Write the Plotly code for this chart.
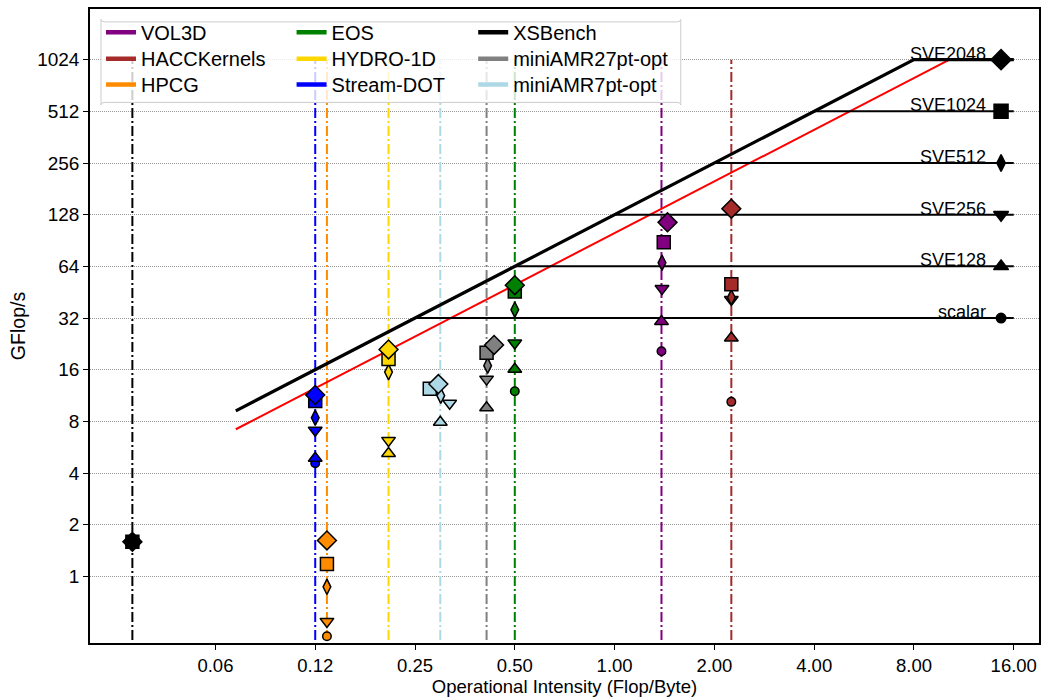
import math
import plotly.graph_objects as go

# ---------------- data ----------------
benchmarks = ["VOL3D", "HACCKernels", "HPCG",
              "EOS", "HYDRO-1D", "Stream-DOT",
              "XSBench", "miniAMR27pt-opt", "miniAMR7pt-opt"]
colors = ["#800080", "#a52a2a", "#ff8c00",
          "#008000", "#ffd700", "#0000ff",
          "#000000", "#808080", "#add8e6"]
# operational intensity of each benchmark (vertical line)
oi_line = [1.385, 2.25, 0.1356, 0.5, 0.208, 0.125, 0.0351, 0.411, 0.298]

vector_widths = ["scalar", "SVE128", "SVE256", "SVE512", "SVE1024", "SVE2048"]
# measured GFlop/s per vector width (scalar .. SVE2048); None = not visible
perf = {
    "VOL3D":           [20.5, 30.6, 47.5, 67.2, 88.5, 115.5],
    "HACCKernels":     [10.4, 24.5, 41.0, 42.2, 50.3, 138.7],
    "HPCG":            [0.448, None, 0.547, 0.87, 1.18, 1.62],
    "EOS":             [12.0, 16.1, 22.9, 35.8, 45.7, 49.7],
    "HYDRO-1D":        [None, 5.2, 6.2, 15.5, 18.5, 21.0],
    "Stream-DOT":      [4.57, 4.88, 7.1, 8.4, 10.5, 11.4],
    "XSBench":         [1.59, 1.59, 1.59, 1.59, 1.59, 1.59],
    "miniAMR27pt-opt": [None, 9.6, 14.1, 16.9, 20.1, 22.3],
    "miniAMR7pt-opt":  [None, 7.9, 10.2, 11.3, 12.4, 13.2],
}
# measured operational intensity per vector width
oi_pts = {
    "VOL3D":           [1.385, 1.385, 1.39, 1.39, 1.407, 1.444],
    "HACCKernels":     [2.25, 2.25, 2.25, 2.25, 2.25, 2.25],
    "HPCG":            [0.1356, 0.1356, 0.1356, 0.1356, 0.1356, 0.1356],
    "EOS":             [0.5, 0.5, 0.5, 0.5, 0.5, 0.5],
    "HYDRO-1D":        [0.208, 0.208, 0.208, 0.208, 0.208, 0.208],
    "Stream-DOT":      [0.125, 0.125, 0.125, 0.125, 0.125, 0.125],
    "XSBench":         [0.0351, 0.0351, 0.0351, 0.0351, 0.0351, 0.0351],
    "miniAMR27pt-opt": [0.411, 0.411, 0.411, 0.414, 0.411, 0.433],
    "miniAMR7pt-opt":  [0.298, 0.298, 0.318, 0.299, 0.277, 0.294],
}

# roofline
peak_gflops = [32, 64, 128, 256, 512, 1024]
bw_main = 128.0     # GB/s (black)
bw_alt = 100.0      # GB/s (red)
oi_start = 0.072
oi_end = 16.0
ceiling_marker_oi = 14.65
label_oi = 13.4

x_tickvals = [0.0625, 0.125, 0.25, 0.5, 1, 2, 4, 8, 16]
x_ticktext = ["0.06", "0.12", "0.25", "0.50", "1.00", "2.00", "4.00", "8.00", "16.00"]
y_tickvals = [1, 2, 4, 8, 16, 32, 64, 128, 256, 512, 1024]
y_ticktext = [str(v) for v in y_tickvals]

# ---------------- style ----------------
symbols = ["circle", "triangle-up", "triangle-down", "diamond-tall", "square", "diamond"]
sizes = [8.5, 12, 12, 11, 13, 14.5]
FONT = "Liberation Sans, Arial, sans-serif"

fig = go.Figure()

# vertical dash-dot lines
for name, col, oi in zip(benchmarks, colors, oi_line):
    fig.add_trace(go.Scatter(x=[oi, oi], y=[0.1, max(peak_gflops)], mode="lines",
                             line=dict(color=col, width=2, dash="10px,3px,2px,3px"),
                             showlegend=False, hoverinfo="skip"))

# roofline lines
fig.add_trace(go.Scatter(x=[oi_start, max(peak_gflops) / bw_alt],
                         y=[oi_start * bw_alt, max(peak_gflops)], mode="lines",
                         line=dict(color="#ff0000", width=2), showlegend=False))
fig.add_trace(go.Scatter(x=[oi_start, max(peak_gflops) / bw_main, oi_end],
                         y=[oi_start * bw_main, max(peak_gflops), max(peak_gflops)],
                         mode="lines", line=dict(color="black", width=3.2), showlegend=False))
for p in peak_gflops:
    fig.add_trace(go.Scatter(x=[p / bw_main, oi_end], y=[p, p], mode="lines",
                             line=dict(color="black", width=2), showlegend=False))

# ceiling markers
for i, p in enumerate(peak_gflops):
    fig.add_trace(go.Scatter(x=[ceiling_marker_oi], y=[p], mode="markers",
                             marker=dict(symbol=symbols[i], size=sizes[i] + 1, color="black",
                                         line=dict(color="black", width=1.5)),
                             showlegend=False))

# benchmark markers
for name, col in zip(benchmarks, colors):
    for i in range(len(vector_widths)):
        v = perf[name][i]
        if v is None:
            continue
        fig.add_trace(go.Scatter(x=[oi_pts[name][i]], y=[v], mode="markers",
                                 marker=dict(symbol=symbols[i], size=sizes[i], color=col,
                                             line=dict(color="black", width=1.5)),
                                 showlegend=False))

L, R, T, B = 90, 7, 8, 54
W, H = 1048, 700
pw, ph = W - L - R, H - T - B

def px2paper_x(px):
    return (px - L) / pw

def py2paper_y(py):
    return (H - B - py) / ph

# legend entries: 3 columns x 3 rows, one legend per entry
col_px = [101, 292, 474]
row_px = [31.5, 58, 84]
leg_common = dict(font=dict(size=20, family=FONT, color="black"),
                  bgcolor="rgba(0,0,0,0)", borderwidth=0,
                  yanchor="middle", xanchor="left", orientation="v",
                  itemclick=False, itemdoubleclick=False)
legend_layout = {}
for k, (name, col) in enumerate(zip(benchmarks, colors)):
    lid = "legend" if k == 0 else f"legend{k + 1}"
    fig.add_trace(go.Scatter(x=[None], y=[None], mode="lines", name=name,
                             line=dict(color=col, width=4.5), legend=lid))
    c, r = k // 3, k % 3
    legend_layout[lid] = dict(x=px2paper_x(col_px[c]), y=py2paper_y(row_px[r]), **leg_common)

# ceiling labels
annotations = []
labels = ["scalar", "SVE128", "SVE256", "SVE512", "SVE1024", "SVE2048"]
for lab, p in zip(labels, peak_gflops):
    annotations.append(dict(x=math.log10(label_oi), y=math.log10(p), xref="x", yref="y",
                            text=lab, showarrow=False, xanchor="right", yanchor="bottom",
                            yshift=-6, font=dict(size=18, color="black", family=FONT)))

# legend frame
def rounded_rect(x0, y0, x1, y1, r):
    return (f"M{x0+r},{y0} L{x1-r},{y0} Q{x1},{y0} {x1},{y0+r} L{x1},{y1-r} "
            f"Q{x1},{y1} {x1-r},{y1} L{x0+r},{y1} Q{x0},{y1} {x0},{y1-r} "
            f"L{x0},{y0+r} Q{x0},{y0} {x0+r},{y0} Z")

legend_shape = dict(type="path", xref="paper", yref="paper",
                    path=rounded_rect(px2paper_x(101), py2paper_y(21),
                                      px2paper_x(682), py2paper_y(102), 0.004),
                    fillcolor="rgba(255,255,255,0.8)",
                    line=dict(color="#cccccc", width=1), layer="above")

fig.update_layout(
    width=W, height=H,
    margin=dict(l=L, r=R, t=T, b=B),
    paper_bgcolor="white", plot_bgcolor="white",
    font=dict(family=FONT, size=18, color="black"),
    showlegend=True,
    annotations=annotations,
    shapes=[legend_shape],
    xaxis=dict(type="log", range=[-1.5825, 1.2803],
               tickvals=x_tickvals, ticktext=x_ticktext,
               showgrid=False, zeroline=False,
               showline=True, linecolor="black", linewidth=1.5, mirror=True,
               ticks="outside", ticklen=5, tickwidth=1.2, tickcolor="black",
               tickfont=dict(size=18.5, family=FONT),
               title=dict(text="Operational Intensity (Flop/Byte)",
                          font=dict(size=18.5, family=FONT), standoff=4)),
    yaxis=dict(type="log", range=[-0.3878, 3.3054],
               tickvals=y_tickvals, ticktext=y_ticktext,
               showgrid=True, gridcolor="#999999", gridwidth=1, griddash="1px,1px",
               zeroline=False,
               showline=True, linecolor="black", linewidth=1.5, mirror=True,
               ticks="outside", ticklen=5, tickwidth=1.2, tickcolor="black",
               tickfont=dict(size=19, family=FONT),
               title=dict(text="GFlop/s", font=dict(size=19.5, family=FONT), standoff=6)),
    **legend_layout,
)

fig.write_html("out.html")
